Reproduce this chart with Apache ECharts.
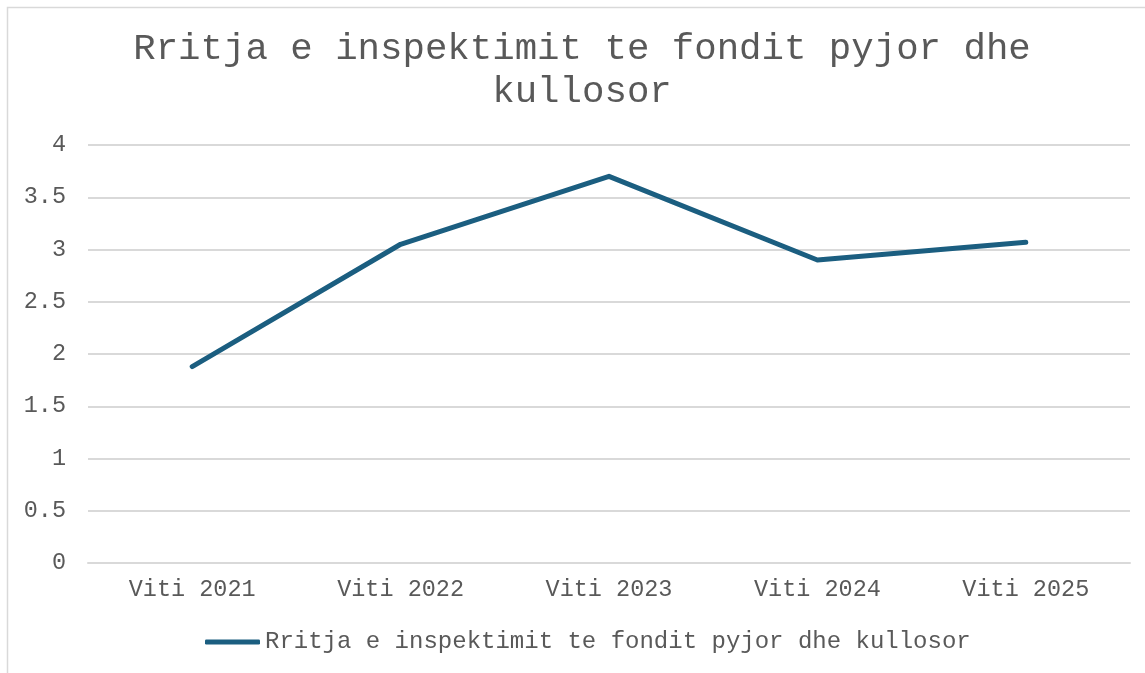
<!DOCTYPE html>
<html>
<head>
<meta charset="utf-8">
<script src="https://cdn.jsdelivr.net/npm/echarts@6/dist/echarts.min.js"></script>
<style>
    html, body { margin: 0; padding: 0; background: #fff; }
    #chart { width: 1145px; height: 673px; }
</style>
</head>
<body>
<div id="chart"></div>
<script>
    // te dhenat
    const years = ['Viti 2021', 'Viti 2022', 'Viti 2023', 'Viti 2024', 'Viti 2025']
    const growth = [1.88, 3.05, 3.7, 2.9, 3.07]
    const seriesName = 'Rritja e inspektimit te fondit pyjor dhe kullosor'
    const titleText = 'Rritja e inspektimit te fondit pyjor dhe\nkullosor'

    const font = '"Liberation Mono", "Courier New", monospace'
    const grey = '#595959'

    let chart = echarts.init(document.getElementById('chart'))
    chart.setOption({
        animation: false,
        color: ['#1B5E80'],
        title: {
            text: titleText,
            left: 582,
            textAlign: 'center',
            top: 28,
            padding: 0,
            textStyle: {
                fontFamily: font,
                fontSize: 37.4,
                lineHeight: 43,
                fontWeight: 'normal',
                color: grey
            }
        },
        graphic: [{
            type: 'rect',
            shape: { x: 7.5, y: 7.5, width: 1200, height: 700 },
            style: { fill: 'none', stroke: '#d9d9d9', lineWidth: 1.5 },
            silent: true
        }],
        legend: {
            left: 200,
            top: 625,
            icon: 'roundRect',
            itemWidth: 55,
            itemHeight: 5,
            itemGap: 10,
            textStyle: { fontFamily: font, fontSize: 24, color: grey }
        },
        grid: { left: 88, right: 15, top: 145, bottom: 110 },
        xAxis: {
            type: 'category',
            data: years,
            axisTick: { show: false },
            axisLine: { lineStyle: { color: '#d9d9d9', width: 2 } },
            axisLabel: { margin: 15, fontFamily: font, fontSize: 23.5, color: grey }
        },
        yAxis: {
            type: 'value',
            min: 0,
            max: 4,
            interval: 0.5,
            splitLine: { lineStyle: { color: '#d9d9d9', width: 2 } },
            axisLabel: { margin: 22, fontFamily: font, fontSize: 23.5, color: grey }
        },
        series: [{
            name: seriesName,
            type: 'line',
            data: growth,
            showSymbol: false,
            lineStyle: { width: 5, cap: 'round', join: 'round' }
        }]
    })
</script>
</body>
</html>
